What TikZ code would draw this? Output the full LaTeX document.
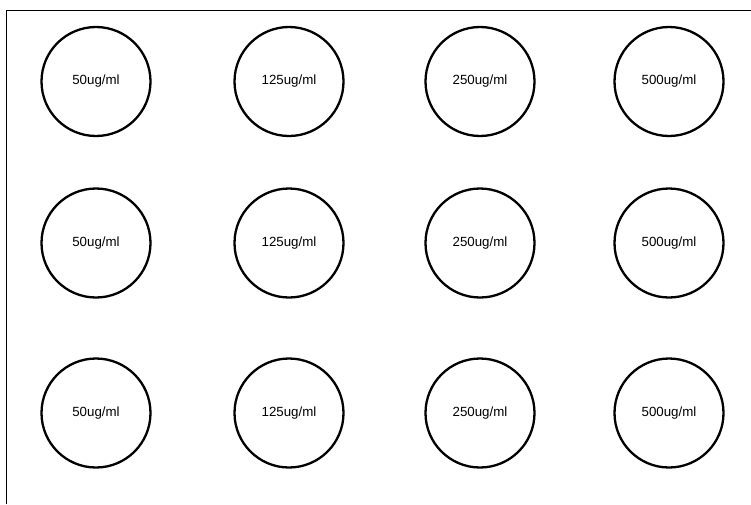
\documentclass[tikz,border=0pt]{standalone}
\usepackage{fontspec}
\setmainfont{Liberation Sans}
\begin{document}
\begin{tikzpicture}[x=1pt,y=-1pt,
  well/.style={circle,draw=black,line width=2.3pt,minimum size=109pt,inner sep=0pt,font=\fontsize{13.3}{15}\selectfont},
  frame/.style={draw=black,line width=1pt}]
\useasboundingbox (0,0) rectangle (751,504);
\coordinate (tl) at (6,10);
\coordinate (tr) at (751,10);
\coordinate (bl) at (6,504);
\draw[frame] (bl) -- (tl) -- (tr);
\foreach \r/\y in {1/81.5,2/243,3/413}{
  \node[well] (w\r a) at (96,\y) {50ug/ml};
  \node[well] (w\r b) at (289,\y) {125ug/ml};
  \node[well] (w\r c) at (480,\y) {250ug/ml};
  \node[well] (w\r d) at (669,\y) {500ug/ml};
}
\end{tikzpicture}
\end{document}
